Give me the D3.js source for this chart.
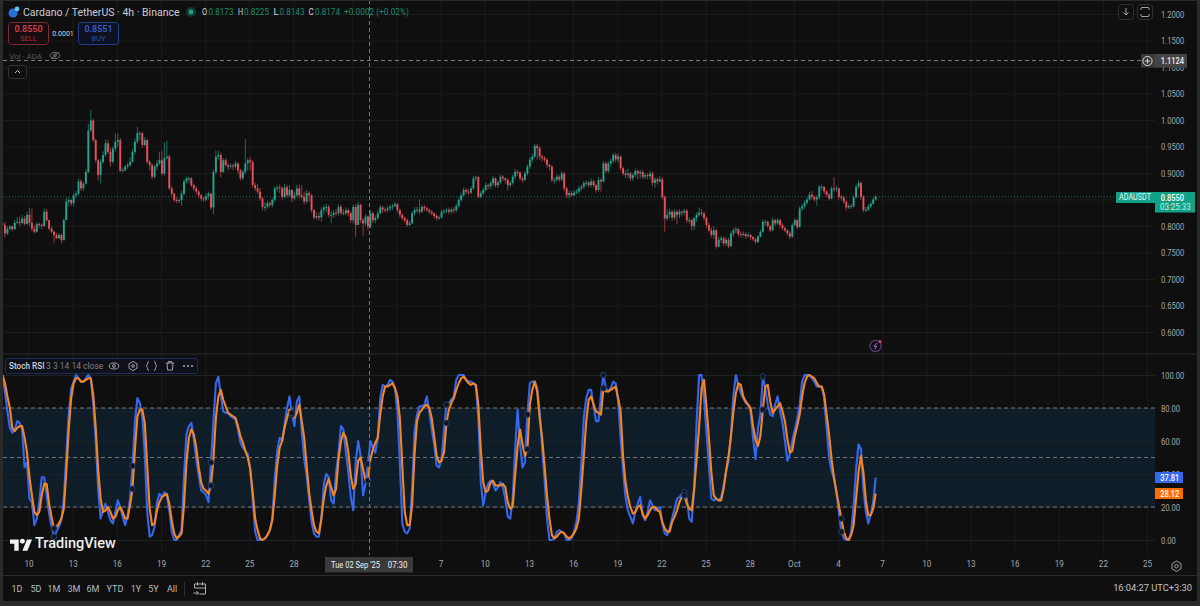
<!DOCTYPE html>
<html>
<head>
<meta charset="utf-8">
<script src="https://cdn.jsdelivr.net/npm/d3@7"></script>
<style>
  html, body { margin: 0; padding: 0; background: #0f0f0f; }
  svg { display: block; font-family: Roboto, "Liberation Sans", sans-serif; }
  svg text { font-family: Roboto, "Liberation Sans", sans-serif; }
  .domain { display: none; }
</style>
</head>
<body>
<svg id="chart" width="1200" height="606"></svg>
<script>
// ADA/USDT 4h candles, one entry per bar
const firstBar = "2025-08-08T07:30";
const closes = [
.802,.786,.795,.799,.794,.806,.808,.806,.814,.804,.821,.806,.795,.789,.804,.802,.800,.827,.811,.795,
.789,.783,.777,.783,.773,.811,.846,.849,.843,.858,.861,.884,.871,.880,.902,.980,.999,.962,.924,.896,
.921,.934,.956,.940,.921,.946,.959,.962,.904,.905,.912,.915,.921,.940,.959,.975,.975,.953,.962,.921,
.915,.893,.912,.918,.924,.899,.928,.931,.871,.861,.849,.848,.849,.861,.884,.890,.890,.877,.871,.865,
.858,.852,.850,.856,.861,.835,.902,.931,.934,.902,.924,.915,.912,.914,.912,.918,.905,.890,.902,.918,
.924,.921,.877,.871,.865,.852,.836,.836,.843,.840,.849,.871,.873,.871,.855,.873,.858,.868,.852,.858,
.871,.858,.855,.846,.862,.858,.830,.816,.819,.816,.830,.835,.836,.821,.821,.825,.824,.836,.825,.824,
.830,.824,.811,.836,.802,.840,.811,.805,.818,.799,.824,.811,.815,.824,.835,.831,.830,.833,.836,.838,
.841,.830,.821,.815,.811,.802,.805,.824,.830,.831,.827,.836,.833,.830,.827,.824,.819,.815,.816,.827,
.828,.830,.827,.831,.830,.838,.849,.858,.868,.865,.863,.871,.890,.892,.855,.862,.868,.877,.875,.881,
.890,.877,.882,.893,.890,.887,.877,.881,.893,.902,.901,.890,.887,.899,.912,.925,.931,.951,.947,.931,
.928,.925,.915,.912,.887,.887,.893,.888,.899,.871,.858,.862,.858,.863,.865,.871,.874,.881,.882,.877,
.884,.877,.868,.887,.884,.918,.904,.918,.923,.934,.926,.931,.909,.899,.896,.899,.890,.896,.904,.899,
.902,.893,.896,.894,.899,.881,.888,.884,.888,.855,.814,.821,.827,.816,.827,.821,.827,.825,.829,.811,
.811,.800,.815,.821,.825,.824,.815,.802,.792,.783,.792,.761,.774,.777,.767,.774,.762,.786,.792,.794,
.785,.783,.785,.781,.783,.779,.775,.770,.780,.789,.808,.808,.800,.792,.811,.805,.811,.802,.796,.792,
.786,.780,.802,.811,.798,.833,.837,.844,.850,.859,.855,.850,.854,.874,.874,.865,.859,.852,.871,.869,
.871,.855,.854,.846,.835,.838,.837,.854,.874,.881,.855,.830,.831,.837,.842,.850,.855];
const highs = [
.806,.807,.800,.802,.801,.811,.817,.817,.821,.819,.827,.834,.833,.801,.807,.807,.805,.833,.832,.812,
.799,.792,.787,.787,.786,.814,.853,.854,.851,.862,.866,.890,.888,.884,.907,.992,1.019,1.002,.965,.926,
.926,.941,.963,.963,.948,.951,.975,.974,.966,.910,.915,.920,.930,.945,.965,.987,.979,.978,.968,.965,
.925,.918,.916,.925,.940,.942,.958,.960,.935,.875,.862,.855,.852,.866,.888,.893,.893,.892,.880,.875,
.868,.860,.855,.862,.865,.862,.907,.942,.942,.938,.928,.928,.918,.918,.918,.923,.920,.908,.906,.964,
.928,.930,.925,.882,.880,.872,.855,.845,.848,.846,.853,.875,.877,.878,.875,.880,.878,.877,.870,.865,
.878,.878,.877,.865,.868,.866,.860,.832,.825,.826,.835,.840,.842,.840,.828,.830,.832,.841,.840,.832,
.835,.833,.828,.840,.842,.846,.842,.815,.822,.820,.830,.828,.820,.830,.840,.838,.835,.838,.840,.842,
.845,.844,.833,.824,.818,.814,.810,.828,.836,.836,.850,.840,.840,.836,.833,.830,.826,.822,.820,.831,
.832,.834,.835,.835,.835,.842,.854,.862,.873,.872,.870,.875,.895,.895,.894,.866,.872,.882,.880,.885,
.895,.892,.886,.897,.896,.892,.890,.885,.897,.908,.906,.903,.893,.903,.916,.930,.936,.955,.955,.950,
.935,.932,.928,.918,.915,.892,.898,.896,.903,.902,.874,.866,.866,.868,.870,.876,.878,.885,.886,.885,
.890,.887,.880,.892,.890,.923,.922,.922,.927,.938,.938,.937,.933,.912,.905,.908,.902,.900,.908,.906,
.906,.906,.900,.900,.904,.903,.892,.892,.894,.892,.858,.832,.833,.830,.832,.830,.832,.830,.832,.832,
.816,.814,.818,.826,.835,.832,.827,.818,.806,.797,.800,.795,.780,.782,.780,.780,.778,.790,.796,.798,
.796,.790,.790,.788,.788,.785,.781,.778,.783,.793,.812,.812,.810,.802,.816,.814,.815,.814,.805,.799,
.794,.790,.806,.815,.813,.837,.842,.848,.854,.864,.866,.858,.858,.878,.878,.875,.868,.862,.875,.892,
.876,.873,.858,.857,.848,.842,.842,.858,.878,.886,.884,.858,.836,.841,.846,.854,.858];
const lows = [
.796,.779,.783,.792,.790,.793,.803,.800,.803,.801,.802,.800,.790,.786,.787,.797,.794,.798,.808,.792,
.786,.767,.775,.775,.767,.773,.811,.838,.838,.838,.852,.858,.866,.866,.878,.900,.978,.958,.920,.886,
.880,.918,.930,.936,.912,.918,.940,.950,.902,.901,.903,.908,.912,.920,.935,.955,.962,.948,.950,.918,
.905,.888,.890,.905,.915,.895,.895,.925,.868,.856,.845,.843,.843,.838,.858,.880,.880,.873,.866,.860,
.852,.847,.845,.846,.850,.830,.822,.898,.925,.892,.900,.912,.905,.907,.905,.908,.898,.886,.886,.898,
.905,.905,.873,.866,.860,.848,.830,.828,.832,.835,.835,.845,.865,.862,.850,.852,.853,.855,.845,.848,
.855,.852,.850,.840,.842,.845,.825,.812,.812,.810,.808,.822,.826,.816,.805,.815,.818,.820,.820,.820,
.820,.818,.806,.805,.780,.802,.806,.781,.800,.792,.795,.805,.805,.812,.822,.825,.825,.826,.828,.830,
.835,.825,.816,.810,.806,.798,.800,.803,.820,.825,.822,.824,.828,.826,.822,.820,.814,.810,.811,.814,
.822,.824,.822,.823,.824,.826,.835,.845,.855,.860,.858,.860,.868,.885,.852,.852,.858,.865,.870,.870,
.875,.873,.872,.880,.885,.880,.867,.873,.878,.888,.895,.885,.882,.885,.895,.908,.920,.928,.925,.925,
.922,.920,.910,.905,.882,.880,.884,.883,.885,.866,.853,.852,.855,.856,.860,.860,.866,.870,.876,.873,
.873,.873,.863,.865,.865,.882,.900,.900,.912,.918,.920,.920,.905,.895,.890,.890,.885,.885,.892,.888,
.890,.888,.888,.888,.888,.875,.872,.878,.882,.850,.789,.810,.815,.810,.812,.803,.815,.818,.820,.806,
.805,.792,.792,.808,.818,.818,.810,.797,.788,.778,.776,.757,.760,.768,.762,.762,.758,.760,.780,.786,
.780,.778,.780,.776,.778,.774,.772,.766,.767,.778,.787,.800,.796,.788,.790,.800,.802,.797,.792,.788,
.782,.775,.778,.800,.794,.796,.828,.832,.840,.848,.850,.846,.838,.850,.866,.860,.855,.848,.850,.865,
.864,.850,.848,.842,.830,.832,.832,.835,.852,.870,.850,.826,.826,.828,.834,.840,.848];

// Stoch RSI %K and %D on the same bars
const stochK = [
100,90,78,68,65,67,72,71,67,44,47,25,23,9,13,23,38,38,27,16,
8,2,5,8,12,25,51,76,92,96,100,98,96,96,98,100,98,82,60,31,
13,18,22,17,12,10,17,24,20,14,9,15,25,45,72,86,83,75,52,17,
2,3,8,23,28,26,29,27,18,5,0,0,3,6,39,64,69,71,61,49,
39,30,29,27,23,47,72,95,99,88,78,77,77,75,74,73,67,59,56,54,
52,43,25,5,0,0,0,1,3,6,13,37,54,62,60,70,80,87,76,69,
84,87,66,49,39,25,11,4,2,2,13,34,40,38,24,22,41,53,69,67,
53,41,26,18,47,60,51,27,34,46,60,56,53,62,86,94,93,94,97,96,
92,78,47,10,5,4,7,31,66,76,81,81,82,87,78,67,58,45,44,49,
66,82,83,85,87,97,100,100,100,97,96,96,95,93,74,35,21,29,34,36,
34,30,32,35,32,25,14,13,25,55,79,58,44,47,76,95,96,96,92,78,
56,37,13,0,0,1,5,6,5,4,0,0,1,5,11,23,47,74,86,91,
91,81,72,72,88,100,92,90,92,96,95,84,62,43,26,18,14,10,17,22,
26,15,12,17,24,21,18,19,20,10,4,3,7,13,19,25,26,28,29,25,
13,11,31,72,100,100,86,65,45,25,24,25,24,26,33,41,48,64,88,100,
94,89,86,83,82,78,62,49,68,76,99,92,82,76,75,82,87,78,71,60,
48,52,60,67,73,82,96,100,100,100,98,96,93,93,93,86,68,50,42,37,
29,17,5,1,0,0,5,21,43,58,55,31,17,10,16,23,37.81];
const stochD = [
100,95,87,80,68,66,68,69,69,62,53,38,27,17,15,17,27,34,34,22,
14,7,8,10,13,19,41,67,86,95,98,98,96,96,97,98,98,88,68,43,
25,17,18,20,17,13,14,18,20,17,13,13,21,31,55,75,79,79,71,45,
19,9,10,18,23,26,27,28,22,12,4,1,2,4,21,47,62,67,64,56,
44,35,31,30,28,33,49,74,87,91,85,81,77,76,75,74,69,63,59,54,
50,43,29,13,6,1,0,1,3,6,12,27,45,56,60,68,74,79,77,74,
77,82,72,62,45,29,18,9,5,4,13,25,33,37,32,27,31,49,60,65,
62,53,39,31,34,48,50,43,36,36,49,55,59,62,76,87,93,93,94,95,
92,87,74,45,17,9,9,21,52,72,77,79,81,82,80,74,63,51,47,48,
53,71,79,83,86,91,95,98,99,97,95,94,95,94,82,55,35,29,30,35,
36,33,33,33,34,32,23,19,20,39,57,67,58,51,55,82,91,96,90,74,
62,45,27,13,3,1,2,4,5,4,2,1,2,4,7,13,31,51,72,85,
87,82,78,77,76,92,90,90,91,92,93,86,78,51,35,26,20,16,17,20,
21,16,13,15,18,20,20,18,17,11,7,5,5,11,14,18,23,26,27,22,
19,18,31,49,68,92,97,81,62,41,27,25,24,24,31,42,51,63,78,89,
95,94,87,84,82,80,69,61,57,63,79,93,94,84,77,79,81,83,78,72,
61,53,54,63,69,76,87,95,99,100,99,98,95,93,93,88,76,64,49,38,
29,21,13,5,1,0,3,9,25,41,51,41,24,15,15,19,28.12];

// Bars carrying a ring marker on both stochastic lines
const ringBars = [21,53,85,118,149,181,214,245,278,310,342];

const priceTicks = [1.2,1.15,1.1,1.05,1.0,0.95,0.9,0.85,0.8,0.75,0.7,0.65,0.6];
const stochTicks = [0,20,40,60,80,100];
const stochBands = [80,50,20];
const dayTicks = ["2025-08-10","2025-08-13","2025-08-16","2025-08-19","2025-08-22","2025-08-25","2025-08-28",
  "2025-09-01","2025-09-04","2025-09-07","2025-09-10","2025-09-13","2025-09-16","2025-09-19","2025-09-22",
  "2025-09-25","2025-09-28","2025-10-01","2025-10-04","2025-10-07","2025-10-10","2025-10-13","2025-10-16",
  "2025-10-19","2025-10-22","2025-10-25"];
// Sep 1 and Sep 4 keep their grid lines; their labels sit under the crosshair tag
const dayLabels = ["10","13","16","19","22","25","28","","","7","10","13","16","19","22","25","28","Oct","4","7","10","13","16","19","22","25"];
const rangeLabels = ["1D","5D","1M","3M","6M","YTD","1Y","5Y","All"];
const lastPrice = 0.8550;
const cursorPrice = 1.1124;
const cursorTime = "2025-09-02T07:30";
const legendValues = [["O","0.8173"],["H","0.8225"],["L","0.8143"],["C","0.8174"]];

const UP = "#22a58f", DOWN = "#ec4f5c", K_COLOR = "#3568ee", D_COLOR = "#f5851f";
const GRID = "#1b1b1b", TICK_TEXT = "#a6a8ad";
const paneRight = 1155;
const TIGHT = 0.8;

const svg = d3.select("#chart");
const parseTime = d3.utcParse("%Y-%m-%dT%H:%M");
const parseDay = d3.utcParse("%Y-%m-%d");

// Condense glyphs horizontally: the axis face runs narrower than Roboto
const squeeze = (sel, ratio) => sel.each(function () {
  const w = this.getComputedTextLength();
  if (w) d3.select(this).attr("textLength", w * ratio).attr("lengthAdjust", "spacingAndGlyphs");
});

// Day ticks land on the first session bar of the day, a little after midnight
const dayTick = s => d3.utcHour.offset(parseDay(s), 2);

const x = d3.scaleUtc()
  .domain([parseTime(firstBar), parseDay("2025-10-25")])
  .range([2.5, 1145.8]);
const yPrice = d3.scaleLinear().domain([0.6, 1.2]).range([332, 14]);
const yStoch = d3.scaleLinear().domain([0, 100]).range([540, 375]);

const barTime = i => d3.utcHour.offset(parseTime(firstBar), 4 * i);
const bars = closes.map((c, i) => {
  const o = i ? closes[i - 1] : highs[0];
  return { t: barTime(i), o, c, h: Math.max(highs[i], o, c), l: Math.min(lows[i], o, c) };
});

svg.append("rect").attr("width", 1200).attr("height", 606).attr("fill", "#0f0f0f");

// Vertical grid comes from the time axis, drawn first so everything sits above it
const xAxis = svg.append("g")
  .attr("transform", "translate(0,555)")
  .call(d3.axisBottom(x)
    .tickValues(dayTicks.map(dayTick))
    .tickFormat((d, i) => dayLabels[i])
    .tickSize(-555)
    .tickPadding(5));
xAxis.selectAll(".tick line").attr("stroke", GRID);
xAxis.selectAll(".tick text").attr("fill", TICK_TEXT).attr("font-size", 9.5).call(squeeze, 0.85);

// Price pane axis and horizontal grid; the 0.85 label sits under the last price tag
const priceAxis = svg.append("g")
  .attr("transform", `translate(${paneRight},0)`)
  .call(d3.axisRight(yPrice).tickValues(priceTicks)
    .tickFormat(d => d === 0.85 ? "" : d3.format(".4f")(d))
    .tickSize(-paneRight + 3).tickPadding(6));
priceAxis.selectAll(".tick line").attr("stroke", GRID);
priceAxis.selectAll(".tick text").attr("fill", TICK_TEXT).attr("font-size", 9.5).call(squeeze, TIGHT);

// Stochastic pane overbought/oversold band
svg.append("rect")
  .attr("x", 3).attr("width", paneRight - 3)
  .attr("y", yStoch(stochBands[0]))
  .attr("height", yStoch(stochBands[2]) - yStoch(stochBands[0]))
  .attr("fill", "#0f1d29");

const stochAxis = svg.append("g")
  .attr("transform", `translate(${paneRight},0)`)
  .call(d3.axisRight(yStoch).tickValues(stochTicks)
    .tickFormat(d3.format(".2f"))
    .tickSize(-paneRight + 3).tickPadding(6));
stochAxis.selectAll(".tick line").attr("stroke", "#1e2226");
stochAxis.selectAll(".tick text").attr("fill", TICK_TEXT).attr("font-size", 9.5).call(squeeze, TIGHT);

svg.selectAll(".band").data(stochBands).join("line")
  .attr("x1", 3).attr("x2", paneRight)
  .attr("y1", d => yStoch(d)).attr("y2", d => yStoch(d))
  .attr("stroke", "#73767d").attr("stroke-dasharray", "4 3");

// Last price guide
svg.append("line").attr("x1", 3).attr("x2", paneRight)
  .attr("y1", yPrice(lastPrice)).attr("y2", yPrice(lastPrice))
  .attr("stroke", "#1f6f5f").attr("stroke-dasharray", "1 2");

// Candles
const candle = svg.append("g").selectAll("g").data(bars).join("g");
candle.append("line")
  .attr("x1", d => x(d.t)).attr("x2", d => x(d.t))
  .attr("y1", d => yPrice(d.h)).attr("y2", d => yPrice(d.l))
  .attr("stroke", d => d.c >= d.o ? UP : DOWN).attr("stroke-opacity", 0.7).attr("stroke-width", 0.9);
candle.append("rect")
  .attr("x", d => x(d.t) - 0.95).attr("width", 1.9)
  .attr("y", d => yPrice(Math.max(d.o, d.c)))
  .attr("height", d => Math.max(1, Math.abs(yPrice(d.o) - yPrice(d.c))))
  .attr("fill", d => d.c >= d.o ? UP : DOWN);

// Stochastic lines
const stochLine = d3.line().x((d, i) => x(barTime(i))).y(d => yStoch(d)).curve(d3.curveLinear);
svg.append("path").datum(stochK).attr("d", stochLine)
  .attr("fill", "none").attr("stroke", K_COLOR).attr("stroke-width", 2.1).attr("stroke-linejoin", "round");
svg.append("path").datum(stochD).attr("d", stochLine)
  .attr("fill", "none").attr("stroke", D_COLOR).attr("stroke-width", 2.1).attr("stroke-linejoin", "round");

svg.selectAll(".ring").data(ringBars.flatMap(i => [[i, stochK[i]], [i, stochD[i]]])).join("circle")
  .attr("cx", d => x(barTime(d[0]))).attr("cy", d => yStoch(d[1])).attr("r", 2.8)
  .attr("fill", "#101522").attr("stroke", "#283f6d").attr("stroke-width", 1);

// Crosshair
const cursorX = Math.round(x(parseTime(cursorTime))) - 0.5;
svg.append("line").attr("x1", cursorX).attr("x2", cursorX)
  .attr("y1", 0).attr("y2", 555)
  .attr("stroke", "#767676").attr("stroke-dasharray", "4 3");
svg.append("line").attr("x1", 3).attr("x2", 1141)
  .attr("y1", Math.round(yPrice(cursorPrice)) + 0.5).attr("y2", Math.round(yPrice(cursorPrice)) + 0.5)
  .attr("stroke", "#7a7a7a").attr("stroke-dasharray", "4 3");

// Frame and separators
const frame = [[0, 0, 3, 606], [1197, 0, 3, 606], [0, 601, 1200, 5], [0, 0, 1200, 1]];
svg.selectAll(".frame").data(frame).join("rect")
  .attr("x", d => d[0]).attr("y", d => d[1]).attr("width", d => d[2]).attr("height", d => d[3])
  .attr("fill", "#2a2a2a");
svg.append("line").attr("x1", 3).attr("x2", 1197).attr("y1", 354).attr("y2", 354).attr("stroke", "#2b2b2b");
svg.append("line").attr("x1", 3).attr("x2", 1197).attr("y1", 575.5).attr("y2", 575.5).attr("stroke", "#2b2b2b");

const label = (tx, ty, str, size, fill, opts = {}) => {
  const t = svg.append("text")
    .attr("x", tx).attr("y", ty).attr("dy", "0.35em")
    .attr("font-size", size).attr("fill", fill)
    .attr("font-weight", opts.weight || 400)
    .attr("text-anchor", opts.anchor || "start").text(str);
  if (opts.width) t.attr("textLength", opts.width).attr("lengthAdjust", "spacingAndGlyphs");
  return t;
};
const box = (bx, by, w, h, fill, stroke, r = 0) => svg.append("rect")
  .attr("x", bx).attr("y", by).attr("width", w).attr("height", h).attr("rx", r)
  .attr("fill", fill).attr("stroke", stroke || "none");

// Header row
svg.append("circle").attr("cx", 13).attr("cy", 13).attr("r", 4.5).attr("fill", "#2d6fd6");
svg.append("circle").attr("cx", 17).attr("cy", 9).attr("r", 2.4).attr("fill", "#5fc7e8");
label(23, 12, "Cardano / TetherUS · 4h · Binance", 10.5, "#c9ccd2");
svg.append("circle").attr("cx", 191).attr("cy", 12).attr("r", 5).attr("fill", "#123a30");
svg.append("circle").attr("cx", 191).attr("cy", 12).attr("r", 2.4).attr("fill", "#16a382");
legendValues.forEach(([k, v], i) => {
  label([202, 238, 273.5, 308.5][i], 12, k, 9.5, "#d1d4dc", { width: 5.2 });
  label([208.5, 244, 279.5, 315][i], 12, v, 9.5, "#1a8a6e", { width: 25 });
});
label(344, 12, "+0.0002 (+0.02%)", 9.5, "#1a8a6e", { width: 65 });

// Order buttons
box(8.5, 22.5, 40, 22, "#150d0f", "#7c2a33", 3);
label(28.5, 29, "0.8550", 9, "#e0424f", { anchor: "middle", weight: 500 });
label(28.5, 38.5, "SELL", 7.5, "#a8323c", { anchor: "middle" });
label(63, 33.5, "0.0001", 7, "#d1d4dc", { anchor: "middle" });
box(78.5, 22.5, 40, 22, "#0d1120", "#24408a", 3);
label(98.5, 29, "0.8551", 9, "#3a62d8", { anchor: "middle", weight: 500 });
label(98.5, 38.5, "BUY", 7.5, "#2f50a8", { anchor: "middle" });

label(9, 56, "Vol · ADA", 8, "#55575b");
const eye = (cx, cy, col) => {
  svg.append("ellipse").attr("cx", cx).attr("cy", cy).attr("rx", 4.8).attr("ry", 3)
    .attr("fill", "none").attr("stroke", col);
  svg.append("circle").attr("cx", cx).attr("cy", cy).attr("r", 1.4).attr("fill", "none").attr("stroke", col);
};
eye(55, 55.5, "#707070");
svg.append("line").attr("x1", 51).attr("y1", 59).attr("x2", 59).attr("y2", 52).attr("stroke", "#707070");

box(8.5, 65.5, 18, 13, "#0f0f0f", "#333", 2);
svg.append("path").attr("d", "M15 73l2.500-2.500 2.500 2.500").attr("fill", "none").attr("stroke", "#c8c8c8");

// Top-right buttons
box(1118.5, 4.5, 15, 15, "#0f0f0f", "#303030", 3);
svg.append("path").attr("d", "M1126 8v7m-2.500-2.500l2.500 2.500 2.500-2.500").attr("fill", "none").attr("stroke", "#a8a8a8");
box(1137.5, 4.5, 15, 15, "#0f0f0f", "#303030", 3);
svg.append("path").attr("d", "M1141 10v-1.500a1 1 0 0 1 1-1h6a1 1 0 0 1 1 1v1.500M1141 14v1.500a1 1 0 0 0 1 1h6a1 1 0 0 0 1-1v-1.500")
  .attr("fill", "none").attr("stroke", "#a8a8a8");

// Cursor price tag
box(1141, 54, 46, 13.5, "#3a3a3a");
svg.append("circle").attr("cx", 1147.5).attr("cy", 61).attr("r", 4.6).attr("fill", "none").attr("stroke", "#d8d8d8");
svg.append("path").attr("d", "M1145 61h5M1147.500 58.500v5").attr("stroke", "#d8d8d8");
box(1155, 54, 32, 13.5, "#444");
label(1160.7, 61, d3.format(".4f")(cursorPrice), 9.5, "#f0f0f0", { weight: 500, width: 23.3 });

// Last price tags
box(1116, 192, 39, 11, "#12a184");
label(1119, 197.5, "ADAUSDT", 8.5, "#eaf6f3", { width: 32 });
box(1155, 192, 40, 20.5, "#12a184");
label(1160.7, 197.5, d3.format(".4f")(lastPrice), 9.5, "#fff", { weight: 500, width: 23.3 });
label(1160, 207, "03:25:33", 9, "#cfeee7", { width: 30.6 });

// Stochastic value tags
box(1155, 472, 28, 11, K_COLOR);
label(1160.3, 477.6, stochK[stochK.length - 1], 9.5, "#fff", { weight: 500, width: 19 });
box(1155, 488, 28, 11, "#ff6d00");
label(1160.3, 493.6, stochD[stochD.length - 1], 9.5, "#fff", { weight: 500, width: 19 });

// Stochastic legend strip
box(5.5, 358.5, 192, 15, "#0e1119", "#1d2f57", 2);
label(9, 366, "Stoch RSI", 8.2, "#d1d4dc", { weight: 500 });
label(46, 366, "3 3 14 14 close", 8.5, "#7d7f84");
eye(114, 366, "#a0a0a0");
svg.append("path").attr("d", "M133 361.500l4 2.250v4.500l-4 2.250-4-2.250v-4.500z").attr("fill", "none").attr("stroke", "#a0a0a0");
svg.append("circle").attr("cx", 133).attr("cy", 366).attr("r", 1.3).attr("fill", "none").attr("stroke", "#a0a0a0");
svg.append("path").attr("d", "M149 361.500c-2 0-1 3-2.500 4.500 1.500 1.500.5 4.500 2.500 4.500M154 361.500c2 0 1 3 2.500 4.500-1.500 1.500-.5 4.500-2.500 4.500")
  .attr("fill", "none").attr("stroke", "#a0a0a0");
svg.append("path").attr("d", "M166 363h8M167 363l.6 7h4.800l.6-7M168.500 363v-1.500h3v1.500").attr("fill", "none").attr("stroke", "#a0a0a0");
svg.selectAll(".dot3").data([184, 188, 192]).join("circle")
  .attr("cx", d => d).attr("cy", 366).attr("r", 1.1).attr("fill", "#a0a0a0");

// Alert badge
svg.append("circle").attr("cx", 875.5).attr("cy", 346).attr("r", 5.6).attr("fill", "#14101a")
  .attr("stroke", "#5d3a78").attr("stroke-width", 1.2);
svg.append("path").attr("d", "M877 342.800l-3 3.600h2.500l-1.500 2.800").attr("fill", "none").attr("stroke", "#9d6fc4").attr("stroke-width", 1);
svg.append("circle").attr("cx", 880).attr("cy", 341.5).attr("r", 1.5).attr("fill", "#e0453f");

// Watermark
const logo = svg.append("g").attr("transform", "translate(10,537) scale(0.62)").attr("fill", "#f2f2f2");
logo.append("path").attr("d", "M14 22H7V11H0V4h14v18zM28 22h-8l7.500-18h8L28 22z");
logo.append("circle").attr("cx", 20).attr("cy", 7).attr("r", 4);
label(35, 543, "TradingView", 14.5, "#eeeeee", { weight: 500 });

// Crosshair time tag
box(325, 557, 88, 15.5, "#3a3a3a");
label(331, 565, "Tue 02 Sep '25", 9.5, "#f0f0f0", { width: 49 });
label(387.7, 565, "07:30", 9.5, "#f0f0f0", { width: 19.7 });

// Axis settings icon
svg.append("path").attr("d", "M1176.500 561l4.500 2.600v5.200l-4.500 2.600-4.500-2.600v-5.200z").attr("fill", "none").attr("stroke", "#a0a0a0");
svg.append("circle").attr("cx", 1176.5).attr("cy", 566.2).attr("r", 1.8).attr("fill", "none").attr("stroke", "#a0a0a0");

// Range toolbar
const rangeX = [17, 36, 54, 74, 93, 115, 136, 153.5, 172];
rangeLabels.forEach((t, i) => label(rangeX[i], 589, t, 9, "#b9bbbf", { anchor: "middle" }));
svg.append("line").attr("x1", 184.5).attr("x2", 184.5).attr("y1", 582).attr("y2", 596).attr("stroke", "#2e2e2e");
svg.append("path").attr("d", "M194.500 584h11v10h-6M194.500 588h11M197.500 582v3.500M202.500 582v3.500M194.500 584v4M193.500 593h5m-2-2l2 2-2 2")
  .attr("fill", "none").attr("stroke", "#b0b0b0");
label(1192, 588, "16:04:27 UTC+3:30", 9.3, "#c2c4c8", { anchor: "end" });
</script>
</body>
</html>
